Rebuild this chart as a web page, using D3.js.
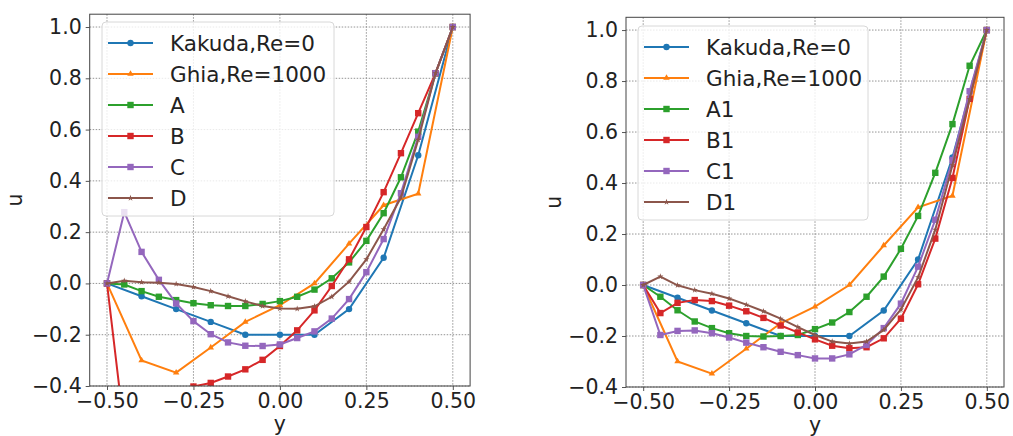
<!DOCTYPE html>
<html>
<head>
<meta charset="utf-8">
<script src="https://cdn.jsdelivr.net/npm/d3@7"></script>
<style>
  body { margin: 0; background: #fff; }
  svg { font-family: "DejaVu Sans", sans-serif; }
</style>
</head>
<body>
<div id="chart"></div>
<script>
// sample positions along the centre line
var xCoarse = [-0.5, -0.4, -0.3, -0.2, -0.1, 0, 0.1, 0.2, 0.3, 0.4, 0.5];
var xFine = [-0.5, -0.45, -0.4, -0.35, -0.3, -0.25, -0.2, -0.15, -0.1, -0.05, 0,
             0.05, 0.1, 0.15, 0.2, 0.25, 0.3, 0.35, 0.4, 0.45, 0.5];

// reference curves
var kakuda = [0, -0.05, -0.1, -0.15, -0.2, -0.2, -0.2, -0.1, 0.1, 0.5, 1.0];
var ghia = [0, -0.3, -0.348, -0.25, -0.15, -0.085, 0, 0.155, 0.305, 0.35, 1.0];

// left panel cases
var caseA = [0, -0.004, -0.03, -0.052, -0.065, -0.077, -0.085, -0.088, -0.088, -0.08, -0.069,
             -0.052, -0.024, 0.02, 0.082, 0.166, 0.274, 0.414, 0.592, 0.819, 1.0];
var caseB = [0, -0.57, -0.52, -0.48, -0.44, -0.402, -0.388, -0.363, -0.335, -0.298, -0.244,
             -0.183, -0.105, -0.01, 0.094, 0.22, 0.356, 0.508, 0.664, 0.82, 1.0];
var caseC = [0, 0.278, 0.123, 0.014, -0.078, -0.147, -0.198, -0.23, -0.243, -0.244, -0.238,
             -0.213, -0.187, -0.137, -0.061, 0.044, 0.173, 0.352, 0.572, 0.82, 1.0];
var caseD = [0, 0.01, 0.005, 0.003, -0.002, -0.014, -0.03, -0.05, -0.07, -0.088, -0.098,
             -0.099, -0.089, -0.052, 0.007, 0.094, 0.211, 0.335, 0.56, 0.82, 1.0];

// right panel cases
var caseA1 = [0, -0.046, -0.099, -0.143, -0.169, -0.189, -0.2, -0.202, -0.2, -0.196, -0.173,
              -0.147, -0.106, -0.046, 0.033, 0.142, 0.271, 0.44, 0.631, 0.86, 1.0];
var caseB1 = [0, -0.11, -0.07, -0.059, -0.063, -0.081, -0.103, -0.129, -0.159, -0.186, -0.213,
              -0.238, -0.248, -0.244, -0.209, -0.132, 0.003, 0.182, 0.42, 0.73, 1.0];
var caseC1 = [0, -0.196, -0.18, -0.178, -0.189, -0.206, -0.226, -0.244, -0.262, -0.275, -0.288,
              -0.288, -0.272, -0.235, -0.169, -0.073, 0.072, 0.256, 0.49, 0.76, 1.0];
var caseD1 = [0, 0.033, -0.001, -0.02, -0.034, -0.053, -0.077, -0.103, -0.132, -0.165, -0.196,
              -0.222, -0.229, -0.222, -0.176, -0.096, 0.03, 0.217, 0.47, 0.73, 1.0];

var xTicks = [-0.5, -0.25, 0, 0.25, 0.5];
var yTicks = [-0.4, -0.2, 0, 0.2, 0.4, 0.6, 0.8, 1.0];

var leftLabels = ['Kakuda,Re=0', 'Ghia,Re=1000', 'A', 'B', 'C', 'D'];
var rightLabels = ['Kakuda,Re=0', 'Ghia,Re=1000', 'A1', 'B1', 'C1', 'D1'];

var colors = ['#1f77b4', '#ff7f0e', '#2ca02c', '#d62728', '#9467bd', '#8c564b'];
var markers = ['circle', 'triangle', 'square', 'square', 'square', 'star'];

var svg = d3.select('#chart').append('svg')
  .attr('width', 1013)
  .attr('height', 436);

function minus(s) { return s.replace('-', '\u2212'); }

function drawMarker(g, kind, color) {
  if (kind === 'circle') {
    g.append('circle').attr('r', 3.2).attr('fill', color);
  } else if (kind === 'square') {
    g.append('rect').attr('x', -3.2).attr('y', -3.2).attr('width', 6.4).attr('height', 6.4).attr('fill', color);
  } else if (kind === 'triangle') {
    g.append('path').attr('d', d3.symbol(d3.symbolTriangle, 18)()).attr('fill', color);
  } else {
    g.append('path').attr('d', d3.symbol(d3.symbolStar, 12)()).attr('fill', color);
  }
}

function drawPanel(opts) {
  var x = d3.scaleLinear().domain([-0.55, 0.55]).range([opts.left, opts.right]);
  var y = d3.scaleLinear().domain([-0.4, 1.05]).range([opts.bottom, opts.top]);

  var g = svg.append('g');
  var clipId = 'clip' + opts.id;

  g.append('clipPath').attr('id', clipId)
    .append('rect')
    .attr('x', opts.left).attr('y', opts.top)
    .attr('width', opts.right - opts.left)
    .attr('height', opts.bottom - opts.top);

  // grid
  g.selectAll('line.gx').data(xTicks).enter().append('line')
    .attr('class', 'gx')
    .attr('x1', function(d) { return x(d); }).attr('x2', function(d) { return x(d); })
    .attr('y1', opts.top).attr('y2', opts.bottom)
    .attr('stroke', '#888').attr('stroke-width', 0.9).attr('stroke-dasharray', '1.5,1.5');
  g.selectAll('line.gy').data(yTicks).enter().append('line')
    .attr('class', 'gy')
    .attr('x1', opts.left).attr('x2', opts.right)
    .attr('y1', function(d) { return y(d); }).attr('y2', function(d) { return y(d); })
    .attr('stroke', '#888').attr('stroke-width', 0.9).attr('stroke-dasharray', '1.5,1.5');

  // axes
  var xAxis = d3.axisBottom(x).tickValues(xTicks).tickSize(4).tickPadding(3)
    .tickFormat(function(d) { return minus(d3.format('.2f')(d)); });
  var yAxis = d3.axisLeft(y).tickValues(yTicks).tickSize(4).tickPadding(4)
    .tickFormat(function(d) { return minus(d3.format('.1f')(d)); });

  var gx = g.append('g').attr('transform', 'translate(0,' + opts.bottom + ')').call(xAxis);
  var gy = g.append('g').attr('transform', 'translate(' + opts.left + ',0)').call(yAxis);
  [gx, gy].forEach(function(a) {
    a.select('.domain').remove();
    a.selectAll('line').attr('stroke', '#555');
    a.selectAll('text').attr('font-size', 20.5).attr('fill', '#222')
      .attr('font-family', '"DejaVu Sans", sans-serif');
  });

  // series
  var series = opts.series;
  var line = d3.line()
    .x(function(d) { return x(d[0]); })
    .y(function(d) { return y(d[1]); });

  var plot = g.append('g').attr('clip-path', 'url(#' + clipId + ')');
  series.forEach(function(s, i) {
    var pts = s.xs.map(function(v, k) { return [v, s.ys[k]]; });
    plot.append('path').datum(pts)
      .attr('d', line)
      .attr('fill', 'none')
      .attr('stroke', colors[i])
      .attr('stroke-width', 2);
    pts.forEach(function(p) {
      var m = plot.append('g').attr('transform', 'translate(' + x(p[0]) + ',' + y(p[1]) + ')');
      drawMarker(m, markers[i], colors[i]);
    });
  });

  // frame
  g.append('rect')
    .attr('x', opts.left).attr('y', opts.top)
    .attr('width', opts.right - opts.left)
    .attr('height', opts.bottom - opts.top)
    .attr('fill', 'none').attr('stroke', '#444').attr('stroke-width', 1);

  // legend
  var lg = g.append('g');
  lg.append('rect')
    .attr('x', opts.legX).attr('y', opts.legY)
    .attr('width', opts.legW).attr('height', 194)
    .attr('rx', 4)
    .attr('fill', '#fff').attr('fill-opacity', 0.8)
    .attr('stroke', '#d8d8d8');
  opts.labels.forEach(function(lab, i) {
    var cy = opts.legY + 21 + i * 31;
    lg.append('line')
      .attr('x1', opts.legX + 6).attr('x2', opts.legX + 51)
      .attr('y1', cy).attr('y2', cy)
      .attr('stroke', colors[i]).attr('stroke-width', 2);
    var m = lg.append('g').attr('transform', 'translate(' + (opts.legX + 28.5) + ',' + cy + ')');
    drawMarker(m, markers[i], colors[i]);
    lg.append('text')
      .attr('x', opts.legX + 68).attr('y', cy)
      .attr('dy', '0.36em')
      .attr('font-size', 21.5)
      .attr('fill', '#222')
      .text(lab);
  });

  // axis labels
  g.append('text')
    .attr('x', (opts.left + opts.right) / 2).attr('y', opts.bottom + 45)
    .attr('text-anchor', 'middle').attr('font-size', 20.5).attr('fill', '#222')
    .text('y');
  g.append('text')
    .attr('transform', 'translate(' + opts.uX + ',' + ((opts.top + opts.bottom) / 2) + ') rotate(-90)')
    .attr('text-anchor', 'middle').attr('font-size', 20.5).attr('fill', '#222')
    .text('u');
}

drawPanel({
  id: 'L', left: 89.7, right: 470.1, top: 14.2, bottom: 386,
  legX: 102, legY: 22, legW: 232, uX: 22,
  labels: leftLabels,
  series: [
    { xs: xCoarse, ys: kakuda },
    { xs: xCoarse, ys: ghia },
    { xs: xFine, ys: caseA },
    { xs: xFine, ys: caseB },
    { xs: xFine, ys: caseC },
    { xs: xFine, ys: caseD }
  ]
});

drawPanel({
  id: 'R', left: 626, right: 1004, top: 17.3, bottom: 387,
  legX: 638, legY: 26, legW: 230, uX: 561,
  labels: rightLabels,
  series: [
    { xs: xCoarse, ys: kakuda },
    { xs: xCoarse, ys: ghia },
    { xs: xFine, ys: caseA1 },
    { xs: xFine, ys: caseB1 },
    { xs: xFine, ys: caseC1 },
    { xs: xFine, ys: caseD1 }
  ]
});
</script>
</body>
</html>
